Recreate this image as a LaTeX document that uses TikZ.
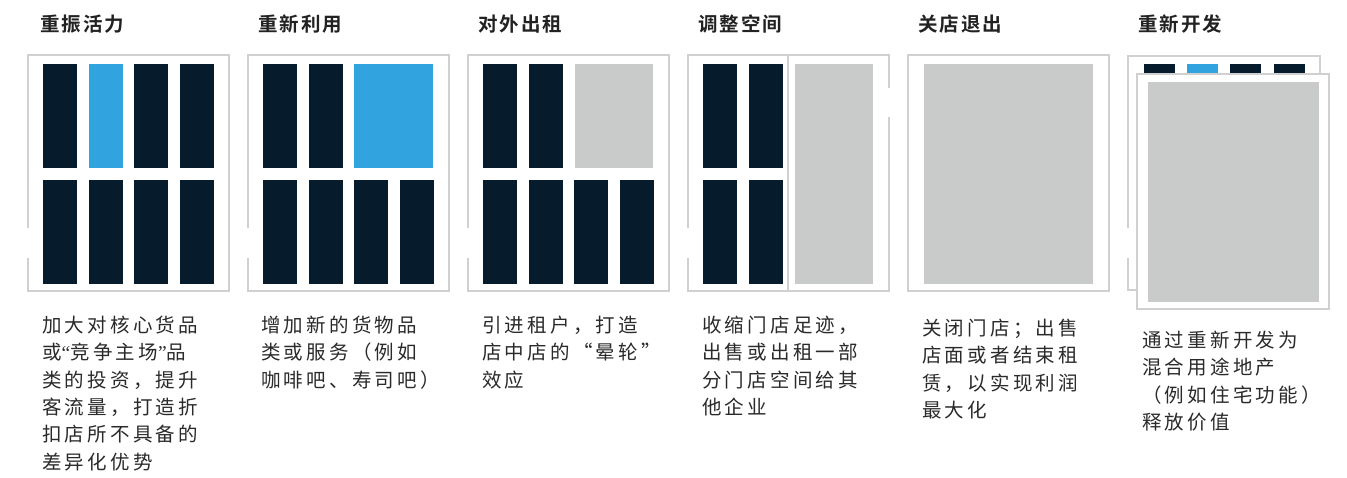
\documentclass[tikz,border=0pt]{standalone}
\usepackage{fontspec}
\newfontfamily\cjk[LetterSpace=16.5]{Noto Sans CJK SC}
\newfontfamily\cjkb[LetterSpace=10]{Noto Sans CJK SC Bold}
\newfontfamily\latq{Liberation Serif}
\definecolor{navy}{HTML}{061C2C}
\definecolor{sky}{HTML}{31A4E0}
\definecolor{pale}{HTML}{C9CACA}
\definecolor{frameg}{HTML}{D0D0D0}
\definecolor{txt}{HTML}{2A2A2A}
\definecolor{ttl}{HTML}{222222}
\tikzset{
  x=1pt, y=-1pt,
  frm/.style={draw=frameg, line width=1.6pt},
  bar/.style={fill=navy},
  hi/.style={fill=sky},
  grey/.style={fill=pale},
  ttlnode/.style={anchor=west, inner sep=0pt, text=ttl, font=\cjkb\fontsize{19.5}{24}\selectfont},
  desc/.style={anchor=north west, inner sep=0pt, align=left, text=txt, font=\cjk\fontsize{19.5}{27.3}\selectfont},
}
\begin{document}
\begin{tikzpicture}
\useasboundingbox[fill=white] (0,0) rectangle (1347,477);
% titles
\node[ttlnode] (t1) at (40,24) {重振活力};
\node[ttlnode] (t2) at (258,24) {重新利用};
\node[ttlnode] (t3) at (478,24) {对外出租};
\node[ttlnode] (t4) at (698,24) {调整空间};
\node[ttlnode] (t5) at (918,24) {关店退出};
\node[ttlnode] (t6) at (1138,24) {重新开发};
% frames (panel 1-5)
\foreach \fx in {28,248,468,688}{
  \draw[frm] (\fx,228) -- (\fx,55) -- (\fx+201,55) -- (\fx+201,291) -- (\fx,291) -- (\fx,258);
}
\draw[frm] (908,55) rectangle (1109,291);
% panel 4 right-edge gap
\draw[draw=white, line width=3pt] (889,88) -- (889,117);
% panel 1
\foreach \o in {15,106,152}{ \fill[bar] (28+\o,64) rectangle ++(34,104); }
\fill[hi] (28+61,64) rectangle ++(34,104);
\foreach \o in {15,61,106,152}{ \fill[bar] (28+\o,180) rectangle ++(34,104); }
% panel 2
\foreach \o in {15,61}{ \fill[bar] (248+\o,64) rectangle ++(34,104); }
\fill[hi] (354,64) rectangle (433,168);
\foreach \o in {15,61,106,152}{ \fill[bar] (248+\o,180) rectangle ++(34,104); }
% panel 3
\foreach \o in {15,61}{ \fill[bar] (468+\o,64) rectangle ++(34,104); }
\fill[grey] (575,64) rectangle (653,168);
\foreach \o in {15,61,106,152}{ \fill[bar] (468+\o,180) rectangle ++(34,104); }
% panel 4
\foreach \o in {15,61}{ \fill[bar] (688+\o,64) rectangle ++(34,104); \fill[bar] (688+\o,180) rectangle ++(34,104); }
\draw[frm] (788,55) -- (788,291);
\fill[grey] (795,64) rectangle (873,284);
% panel 5
\fill[grey] (924,64) rectangle (1093,284);
% panel 6 back
\draw[frm] (1128,228) -- (1128,56) -- (1320,56) -- (1320,290) -- (1128,290) -- (1128,258);
\foreach \x in {1144,1187,1230,1274}{ \fill[bar] (\x,64) rectangle ++(31,14); }
\fill[hi] (1187,64) rectangle ++(31,14);
% panel 6 front
\draw[frm, fill=white] (1137,74) rectangle (1329,309);
\fill[grey] (1148,82) rectangle (1319,302);
% descriptions
\node[desc] (d1) at (42,316) {加大对核心货品\\或{\latq “}竞争主场{\latq ”}品\\类的投资，提升\\客流量，打造折\\扣店所不具备的\\差异化优势};
\node[desc] (d2) at (261,316) {增加新的货物品\\类或服务（例如\\咖啡吧、寿司吧）};
\node[desc] (d3) at (482,316) {引进租户，打造\\店中店的“晕轮”\\效应};
\node[desc] (d4) at (702,316) {收缩门店足迹，\\出售或出租一部\\分门店空间给其\\他企业};
\node[desc] (d5) at (922,319) {关闭门店；出售\\店面或者结束租\\赁，以实现利润\\最大化};
\node[desc] (d6) at (1142,331) {通过重新开发为\\混合用途地产\\（例如住宅功能）\\释放价值};
\end{tikzpicture}
\end{document}
